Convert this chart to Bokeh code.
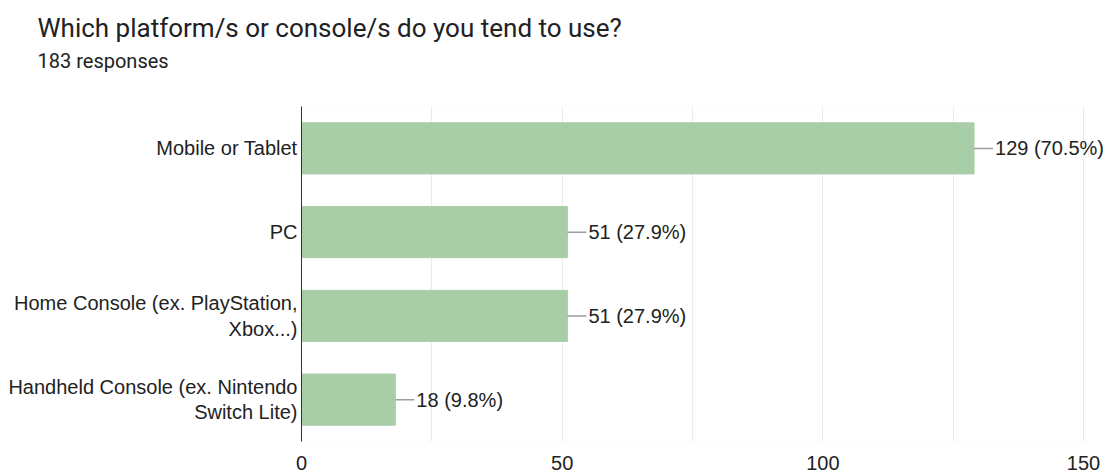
from bokeh.plotting import figure
from bokeh.models import FactorRange, Range1d, FixedTicker, Title, ColumnDataSource, LabelSet, BoxAnnotation
from bokeh.core.properties import value
from bokeh.embed import file_html
from bokeh.resources import INLINE

categories = ["Mobile or Tablet", "PC", "Home Console (ex. PlayStation,\nXbox...)",
              "Handheld Console (ex. Nintendo\nSwitch Lite)"]
counts = [129, 51, 51, 18]
percents = [70.5, 27.9, 27.9, 9.8]
x_ticks = [0, 50, 100, 150]
x_minor = [25, 75, 125]
total_responses = 183

labels = [f"{c} ({p}%)" for c, p in zip(counts, percents)]
src = ColumnDataSource(dict(cat=categories, val=counts, lab=labels))

# frame spans 0..150 over 782 px; extend range so the value labels are not clipped
px_per_unit = 782 / (x_ticks[-1] - x_ticks[0])
x_end = x_ticks[-1] + 20 / px_per_unit

p = figure(width=1103, height=472, output_backend="svg", toolbar_location=None,
           y_range=FactorRange(factors=categories[::-1], range_padding=0),
           x_range=Range1d(x_ticks[0], x_end), title=None,
           min_border_left=301, min_border_right=0, min_border_bottom=30, min_border_top=106)

p.add_layout(Title(text=" ", text_font_size="1px", standoff=31), "above")
p.add_layout(Title(text=f"{total_responses} responses", text_font="Roboto", text_font_size="20px",
                   text_font_style="normal", text_color="#202124", align="left", offset=-264,
                   standoff=0), "above")
p.add_layout(Title(text="Which platform/s or console/s do you tend to use?", text_font="Roboto",
                   text_font_size="26px", text_font_style="normal", text_color="#202124",
                   align="left", offset=-264, standoff=7), "above")

p.hbar(y="cat", right="val", height=0.61, left=0, source=src, color="#a8cea7")
p.ray(x="val", y="cat", length=19, angle=0, length_units="screen", source=src,
      line_color="#9e9e9e", line_width=1.5)
p.add_layout(LabelSet(x="val", y="cat", text="lab", x_offset=21, source=src,
                      text_baseline="middle", text_align="left", text_font_size="20px",
                      text_color="#222222", text_font=value("Liberation Sans")))

p.add_layout(BoxAnnotation(left=x_ticks[0], right=x_ticks[-1], fill_color=None,
                           line_color="#e6e6e6", line_width=1, level="underlay"))

p.xaxis.ticker = FixedTicker(ticks=x_ticks, minor_ticks=x_minor)
p.xaxis.axis_line_color = None
p.xaxis.major_tick_line_color = None
p.xaxis.minor_tick_line_color = None
p.xaxis.major_label_text_font = "Liberation Sans"
p.xaxis.major_label_text_font_size = "20px"
p.xaxis.major_label_text_color = "#222222"
p.xaxis.major_label_standoff = 8

p.yaxis.axis_line_color = "#333333"
p.yaxis.major_tick_line_color = None
p.yaxis.minor_tick_line_color = None
p.yaxis.major_tick_out = 0
p.yaxis.major_label_text_font = "Liberation Sans"
p.yaxis.major_label_text_font_size = "20px"
p.yaxis.major_label_text_color = "#222222"
p.yaxis.major_label_standoff = 4
p.yaxis.major_label_text_line_height = 1.15

p.ygrid.grid_line_color = None
p.xgrid.grid_line_color = "#ebebeb"
p.xgrid.minor_grid_line_color = "#ebebeb"
p.outline_line_color = None

open("out.html", "w").write(file_html(p, INLINE))
